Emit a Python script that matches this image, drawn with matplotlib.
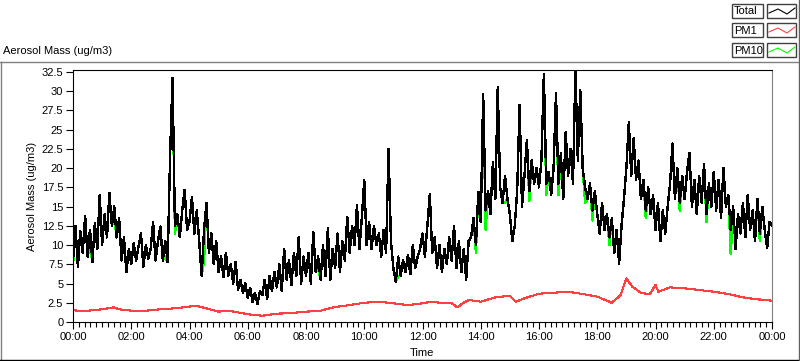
import numpy as np
import matplotlib
matplotlib.use("Agg")
import matplotlib.pyplot as plt
from matplotlib.patches import Rectangle
from matplotlib.lines import Line2D
from matplotlib.ticker import MultipleLocator, FixedLocator

plt.rcParams['font.family'] = ['Liberation Sans', 'DejaVu Sans']
plt.rcParams['font.size'] = 8

# ---------------- data ----------------
# Total aerosol mass, 5-minute samples, one row per hour (00:00 .. 23:55) + final 24:00
total = [
    8.0, 12.5, 7.2, 11.8, 9.0, 13.8, 8.5, 12.0, 7.8, 12.8, 9.5, 16.5,      # 00
    10.0, 14.0, 11.0, 16.8, 12.5, 15.0, 11.0, 13.5, 8.0, 11.0, 6.5, 9.5,   # 01
    7.5, 10.2, 8.0, 9.8, 11.5, 7.2, 10.0, 8.2, 9.5, 13.0, 8.0, 10.5,       # 02
    12.4, 8.0, 10.5, 7.8, 21.5, 31.7, 12.5, 14.0, 11.0, 14.5, 17.2, 12.0,  # 03
    13.0, 16.3, 11.5, 14.5, 10.5, 6.0, 12.0, 15.5, 9.0, 11.5, 7.5, 10.5,   # 04
    6.5, 8.5, 5.8, 9.0, 6.0, 7.5, 5.0, 7.8, 4.2, 5.5, 3.8, 5.0,            # 05
    3.2, 4.4, 2.6, 3.8, 2.3, 4.0, 3.5, 5.5, 3.0, 6.0, 4.0, 6.5,            # 06
    4.5, 7.5, 4.0, 9.5, 5.5, 8.0, 4.8, 9.0, 6.0, 11.0, 5.0, 8.5,           # 07
    6.0, 9.0, 5.0, 11.7, 6.5, 8.5, 5.5, 10.0, 6.0, 12.2, 5.5, 9.5,         # 08
    7.0, 11.5, 6.5, 10.5, 8.0, 13.7, 9.0, 12.5, 10.0, 15.2, 9.5, 13.5,     # 09
    18.5, 10.0, 13.0, 9.5, 12.5, 10.0, 11.5, 8.5, 12.0, 9.0, 22.5, 10.5,   # 10
    7.0, 5.2, 8.5, 6.0, 8.0, 6.5, 8.7, 6.2, 10.0, 7.0, 8.5, 9.5,           # 11
    11.5, 8.5, 12.5, 16.6, 9.0, 11.0, 7.0, 10.0, 6.5, 9.5, 7.5, 11.0,      # 12
    8.0, 12.5, 7.0, 10.5, 6.5, 9.5, 5.5, 10.5, 11.0, 13.5, 10.0, 16.9,     # 13
    13.0, 29.6, 14.5, 17.0, 14.0, 20.8, 16.0, 30.5, 17.5, 15.5, 19.0, 16.0,  # 14
    14.0, 10.5, 12.5, 17.0, 28.2, 15.0, 19.0, 23.7, 17.0, 21.0, 18.0, 20.0,  # 15
    17.5, 21.0, 32.2, 18.0, 19.5, 16.5, 20.0, 29.7, 18.0, 21.9, 16.0, 24.7,  # 16
    19.0, 22.5, 18.0, 32.7, 21.0, 30.2, 20.0, 17.5, 16.0, 18.0, 14.5, 17.0,  # 17
    14.0, 11.5, 15.5, 12.0, 14.0, 11.0, 13.5, 9.0, 12.0, 7.6, 12.5, 16.0,    # 18
    20.0, 26.0, 19.0, 23.9, 18.5, 21.0, 16.0, 18.5, 14.5, 17.5, 14.0, 16.5,  # 19
    12.0, 15.5, 10.5, 14.5, 11.5, 15.0, 18.0, 23.2, 16.0, 20.0, 15.5, 19.0,  # 20
    16.0, 19.5, 22.0, 15.0, 18.5, 14.0, 19.0, 15.5, 20.5, 14.0, 18.0, 15.0,  # 21
    19.5, 14.5, 18.5, 13.5, 20.0, 15.0, 16.5, 12.0, 15.0, 9.5, 14.0, 11.5,   # 22
    15.5, 11.0, 16.5, 12.0, 14.5, 10.5, 16.0, 11.5, 15.0, 12.0, 9.6, 13.0,   # 23
    12.5,
]
sample_minutes = 5

# PM10 follows Total except at these samples (index: value) where it dips below
pm10_dips = {0: 7.4, 7: 10.0, 17: 13.5, 38: 8.5, 42: 11.5, 54: 8.0, 101: 7.0,
             134: 6.0, 166: 9.0, 170: 12.0, 178: 15.5, 188: 15.8, 195: 16.5,
             200: 16.5, 211: 15.5, 214: 13.2, 221: 10.0, 236: 13.5, 250: 14.5,
             261: 13.0, 271: 8.8, 283: 10.5}

# PM1 (hours, value)
pm1_hours = [0, 0.25, 0.5, 0.75, 1, 1.4, 1.6, 2, 2.25, 2.5, 3, 3.5, 4, 4.2,
             4.5, 5, 5.3, 5.6, 6, 6.5, 7, 7.5, 8, 8.5, 9, 9.5, 10, 10.5, 11,
             11.5, 12, 12.3, 12.6, 13, 13.2, 13.4, 13.6, 14, 14.5, 15, 15.2,
             15.5, 16, 16.5, 17, 17.5, 18, 18.5, 18.8, 19, 19.2, 19.5, 19.8,
             20, 20.1, 20.5, 21, 21.5, 22, 22.5, 23, 23.5, 24]
pm1_values = [1.56, 1.4, 1.47, 1.55, 1.65, 1.9, 1.65, 1.47, 1.38, 1.47, 1.65,
              1.78, 2.0, 2.12, 1.86, 1.34, 1.47, 1.3, 1.0, 0.82, 1.08, 1.17,
              1.34, 1.47, 1.95, 2.2, 2.5, 2.64, 2.43, 2.2, 2.43, 2.64, 2.5, 2.43,
              1.9, 2.5, 2.86, 2.64, 3.2, 3.42, 2.64, 3.08, 3.68, 3.8, 3.94, 3.64,
              3.3, 2.5, 3.5, 5.68, 4.6, 3.8, 3.6, 4.8, 3.94, 4.5, 4.38, 4.16,
              3.94, 3.64, 3.2, 2.95, 2.77]

x_ticks = list(range(0, 25, 2))
x_tick_labels = [f"{h % 24:02d}:00" for h in x_ticks]
y_ticks = [0, 2.5, 5, 7.5, 10, 12.5, 15, 17.5, 20, 22.5, 25, 27.5, 30, 32.5]
y_tick_labels = [f"{v:g}" for v in y_ticks]
series_names = ["Total", "PM1", "PM10"]
series_colors = ["#000000", "#FF4040", "#00FF00"]

# ---------------- figure ----------------
W, H = 800, 361
fig = plt.figure(figsize=(W / 100, H / 100), dpi=100)
fig.patch.set_facecolor("white")

def fx(x):
    return x / W

def fy(y):
    return 1 - y / H

ax = fig.add_axes([fx(73), fy(322), (772 - 73) / W, (322 - 70) / H])

t_total = np.arange(len(total)) * sample_minutes / 60.0
pm10 = list(total)
for i, v in pm10_dips.items():
    pm10[i] = v

ax.plot(pm1_hours, pm1_values, color=series_colors[1], lw=0.8, antialiased=False)
ax.plot(t_total, pm10, color=series_colors[2], lw=1.0, antialiased=False)
ax.plot(t_total, total, color=series_colors[0], lw=1.0, antialiased=False)

ax.set_xlim(0, 24)
ax.set_ylim(0, (322 - 70) / 250 * 32.5)
ax.xaxis.set_major_locator(FixedLocator(x_ticks))
ax.set_xticklabels(x_tick_labels)
ax.xaxis.set_minor_locator(MultipleLocator(0.2))
ax.yaxis.set_major_locator(FixedLocator(y_ticks))
ax.set_yticklabels(y_tick_labels)

ax.tick_params(axis='both', which='major', direction='out', length=5, width=0.8,
               color='black', labelsize=8, pad=2)
ax.tick_params(axis='x', which='minor', direction='out', length=3.5, width=0.8,
               color='black')
ax.tick_params(top=False, right=False)

for side in ['left', 'top', 'bottom']:
    ax.spines[side].set_color('black')
    ax.spines[side].set_linewidth(0.8)
ax.spines['right'].set_color('#808080')
ax.spines['right'].set_linewidth(0.8)

# axis titles
fig.text(fx(32), fy(196), "Aerosol Mass (ug/m3)", rotation=90, ha='center',
         va='center', fontsize=8)
fig.text(fx(422), fy(353), "Time", ha='center', va='center', fontsize=8)
fig.text(fx(3), fy(51), "Aerosol Mass (ug/m3)", ha='left', va='center', fontsize=8)

# panel frame
fig.lines.append(Line2D([fx(0), fx(798)], [fy(62), fy(62)], color='#808080', lw=1,
                        transform=fig.transFigure))
fig.lines.append(Line2D([fx(0.8), fx(0.8)], [fy(62), fy(359.5)], color='#808080',
                        lw=1, transform=fig.transFigure))
fig.lines.append(Line2D([fx(0), fx(800)], [fy(359.5), fy(359.5)], color='black',
                        lw=1, transform=fig.transFigure))
fig.lines.append(Line2D([fx(798.5), fx(798.5)], [fy(0), fy(361)], color='#606060',
                        lw=1, transform=fig.transFigure))

# legend (manual, LabVIEW style)
row_tops = [4, 23, 43]
for name, col, top in zip(series_names, series_colors, row_tops):
    bot = top + 14
    fig.patches.append(Rectangle((fx(732), fy(bot)), (763 - 732) / W, (bot - top) / H,
                                 fill=False, ec='#404040', lw=1,
                                 transform=fig.transFigure))
    fig.patches.append(Rectangle((fx(767), fy(bot)), (796 - 767) / W, (bot - top) / H,
                                 fill=False, ec='#404040', lw=1,
                                 transform=fig.transFigure))
    fig.text(fx(734), fy(top + 7.5), name, ha='left', va='center', fontsize=8)
    sx = [769, 778, 787, 795]
    sy = [top + 9, top + 5, top + 10, top + 4]
    fig.lines.append(Line2D([fx(v) for v in sx], [fy(v) for v in sy], color=col,
                            lw=0.8, transform=fig.transFigure))

fig.savefig("out.png", dpi=100)
